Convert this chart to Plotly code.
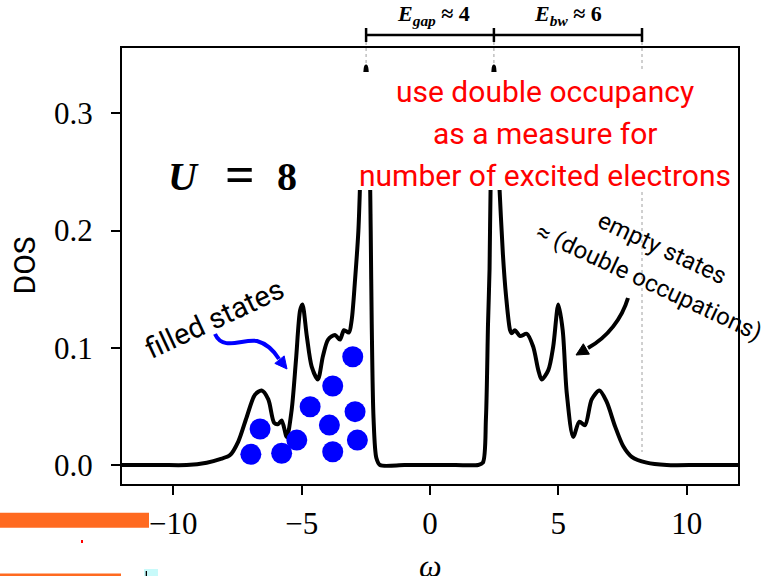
import math
import plotly.graph_objects as go

# ---------------- data ----------------
omega = [-12.0, -10.5, -9.48, -8.70, -8.18, -7.79, -7.47, -7.14, -6.82, -6.56, -6.30, -6.07,
         -5.91, -5.78, -5.58, -5.39, -5.22, -5.06, -4.97, -4.80, -4.61, -4.37, -4.17, -3.97,
         -3.70, -3.51, -3.35, -3.16, -3.05, -2.92, -2.79, -2.69, -2.49, -2.35, -2.31, -2.27,
         -2.20, -2.09, -1.95, -1.0, 0.0, 1.0, 1.87, 2.06, 2.18, 2.26, 2.32, 2.36, 2.49, 2.71,
         2.84, 2.96, 3.12, 3.18, 3.31, 3.51, 3.77, 4.02, 4.22, 4.35, 4.61, 4.80, 5.00, 5.17,
         5.33, 5.58, 5.82, 6.04, 6.30, 6.60, 6.88, 7.21, 7.53, 7.86, 8.44, 9.22, 10.5, 12.0]
dos = [0.0, 0.0, 0.0, 0.002, 0.005, 0.0085, 0.020, 0.041, 0.060, 0.0635, 0.056, 0.036,
       0.035, 0.038, 0.024, 0.047, 0.090, 0.132, 0.137, 0.110, 0.084, 0.073, 0.093, 0.107,
       0.111, 0.107, 0.115, 0.113, 0.124, 0.158, 0.200, 0.260, 0.340, 0.260, 0.200, 0.120,
       0.040, 0.006, 0.0, 0.0, 0.0, 0.0, 0.0, 0.002, 0.040, 0.120, 0.167, 0.235, 0.340, 0.235,
       0.180, 0.145, 0.115, 0.1125, 0.115, 0.110, 0.112, 0.101, 0.081, 0.073, 0.081, 0.101, 0.137, 0.115,
       0.061, 0.024, 0.037, 0.034, 0.056, 0.0635, 0.054, 0.033, 0.016, 0.007, 0.002, 0.0, 0.0, 0.0]

dot_omega = [-6.98, -6.62, -5.78, -5.19, -4.67, -3.92, -3.79, -3.79, -2.92, -2.83, -3.01]
dot_dos = [0.0091, 0.0307, 0.0100, 0.0213, 0.0497, 0.0341, 0.0113, 0.0674, 0.0455, 0.0213, 0.0924]

x_ticks = [-10, -5, 0, 5, 10]
y_ticks = [0.0, 0.1, 0.2, 0.3]
y_tick_labels = ["0.0", "0.1", "0.2", "0.3"]

bracket_x = [-2.49, 2.49, 8.26]
bracket_labels = ["<b><i>E</i><sub><i>gap</i></sub> ≈ 4</b>", "<b><i>E</i><sub><i>bw</i></sub> ≈ 6</b>"]
red_lines = ["use double occupancy", "as a measure for", "number of excited electrons"]

# ---------------- layout helpers ----------------
W, H = 765, 576
ML, MR, MT, MB = 122, 27, 48, 92
PW, PH = W - ML - MR, H - MT - MB


def px(x):
    return (x - ML) / PW


def py(y):
    return (H - MB - y) / PH


def head(tip, frm, length=12, half=6):
    dx, dy = tip[0] - frm[0], tip[1] - frm[1]
    n = math.hypot(dx, dy)
    ux, uy = dx / n, dy / n
    bx, by = tip[0] - ux * length, tip[1] - uy * length
    nx, ny = -uy, ux
    p1 = (bx + nx * half, by + ny * half)
    p2 = (bx - nx * half, by - ny * half)
    return (f"M {px(tip[0])},{py(tip[1])} L {px(p1[0])},{py(p1[1])} "
            f"L {px(p2[0])},{py(p2[1])} Z")


def bez(pts):
    s = f"M {px(pts[0][0])},{py(pts[0][1])}"
    for i in range(1, len(pts), 3):
        a, b, c = pts[i], pts[i + 1], pts[i + 2]
        s += f" C {px(a[0])},{py(a[1])} {px(b[0])},{py(b[1])} {px(c[0])},{py(c[1])}"
    return s


fig = go.Figure()
fig.add_trace(go.Scatter(x=omega, y=dos, mode="lines",
                         line=dict(color="black", width=4, shape="spline", smoothing=0.8),
                         hoverinfo="skip", showlegend=False))
fig.add_trace(go.Scatter(x=dot_omega, y=dot_dos, mode="markers",
                         marker=dict(color="#0000ff", size=21, line=dict(width=0)),
                         hoverinfo="skip", showlegend=False))

shapes = []
dotted = dict(color="#a0a0a0", width=1, dash="dot")
for i, bx in enumerate(bracket_x):
    y_end = py(452) if i == 2 else py(66)
    shapes.append(dict(type="line", xref="x", yref="paper", x0=bx, x1=bx, y0=py(42), y1=y_end,
                       line=dotted, layer="above"))
# white box behind red text
shapes.append(dict(type="rect", xref="paper", yref="paper", x0=px(350), x1=px(736),
                   y0=py(190), y1=py(72), fillcolor="white", line=dict(width=0), layer="above"))
# bracket
shapes.append(dict(type="line", xref="x", yref="paper", x0=bracket_x[0], x1=bracket_x[2],
                   y0=py(35), y1=py(35), line=dict(color="black", width=2.5), layer="above"))
for bx in bracket_x:
    shapes.append(dict(type="line", xref="x", yref="paper", x0=bx, x1=bx, y0=py(28), y1=py(42),
                       line=dict(color="black", width=2.5), layer="above"))
# blue curved arrow
shapes.append(dict(type="path", xref="paper", yref="paper",
                   path=bez([(215, 334), (223, 352), (244, 338), (257, 341),
                             (268, 344), (274, 351), (279, 359)]),
                   line=dict(color="#0000ff", width=4), layer="above"))
shapes.append(dict(type="path", xref="paper", yref="paper", path=head((287, 369), (279, 359)),
                   fillcolor="#0000ff", line=dict(color="#0000ff", width=1), layer="above"))
# black curved arrow
shapes.append(dict(type="path", xref="paper", yref="paper",
                   path=bez([(628, 298), (622, 318), (608, 337), (588, 348)]),
                   line=dict(color="black", width=4), layer="above"))
shapes.append(dict(type="path", xref="paper", yref="paper", path=head((576, 355), (588, 348)),
                   fillcolor="black", line=dict(color="black", width=1), layer="above"))
# clipped fragments at bottom-left
frag = [((0, 512.7, 149, 527.7), "#ff6a20"), ((0, 573.5, 121, 576), "#ff6a20"),
        ((81, 540, 83, 543), "#ff0000"), ((144, 569, 158, 576), "#c8fafa"),
        ((145.7, 571, 147, 576), "#000000")]
for (x0, y0, x1, y1), c in frag:
    shapes.append(dict(type="rect", xref="paper", yref="paper", x0=px(x0), x1=px(x1),
                       y0=py(y1), y1=py(y0), fillcolor=c, line=dict(width=0), layer="above"))

ann = []


def text(t, x, y, size, family="Roboto", color="black", angle=0):
    ann.append(dict(text=t, x=px(x), y=py(y), xref="paper", yref="paper", showarrow=False,
                    xanchor="center", yanchor="middle", textangle=angle,
                    font=dict(family=family, size=size, color=color)))


for t, yy in zip(red_lines, [92, 133, 175]):
    text(t, 545, yy, 30, color="#ff0000")
text("filled states", 214, 319, 29, angle=-25)
text("empty states", 662, 248, 24, angle=25)
text("≈ (double occupations)", 649, 282, 24, angle=25)
text("<b><i>U</i></b>", 183, 176, 40, family="Liberation Serif")
text("<b>=</b>", 240, 174, 52, family="Liberation Serif")
text("<b>8</b>", 287, 176, 40, family="Liberation Serif")
text(bracket_labels[0], 434, 15, 22, family="Liberation Serif")
text(bracket_labels[1], 568, 15, 22, family="Liberation Serif")
text("DOS", 23.5, 266, 30, angle=-90)
text("<i>ω</i>", 430, 566, 32, family="Liberation Serif")

axis_common = dict(showgrid=False, zeroline=False, showline=True, mirror=True,
                   linecolor="black", linewidth=2, ticks="outside", ticklen=9, tickwidth=2,
                   tickcolor="black",
                   tickfont=dict(family="Liberation Serif", size=31, color="black"))

fig.update_layout(
    width=W, height=H, margin=dict(l=ML, r=MR, t=MT, b=MB, pad=0),
    paper_bgcolor="white", plot_bgcolor="white", showlegend=False,
    xaxis=dict(range=[-12, 12], tickvals=x_ticks, ticklabelstandoff=2, **axis_common),
    yaxis=dict(range=[-0.0162, 0.3558], tickvals=y_ticks, ticktext=y_tick_labels,
               ticklabelstandoff=12, **axis_common),
    shapes=shapes, annotations=ann,
)
fig.write_html("out.html")
